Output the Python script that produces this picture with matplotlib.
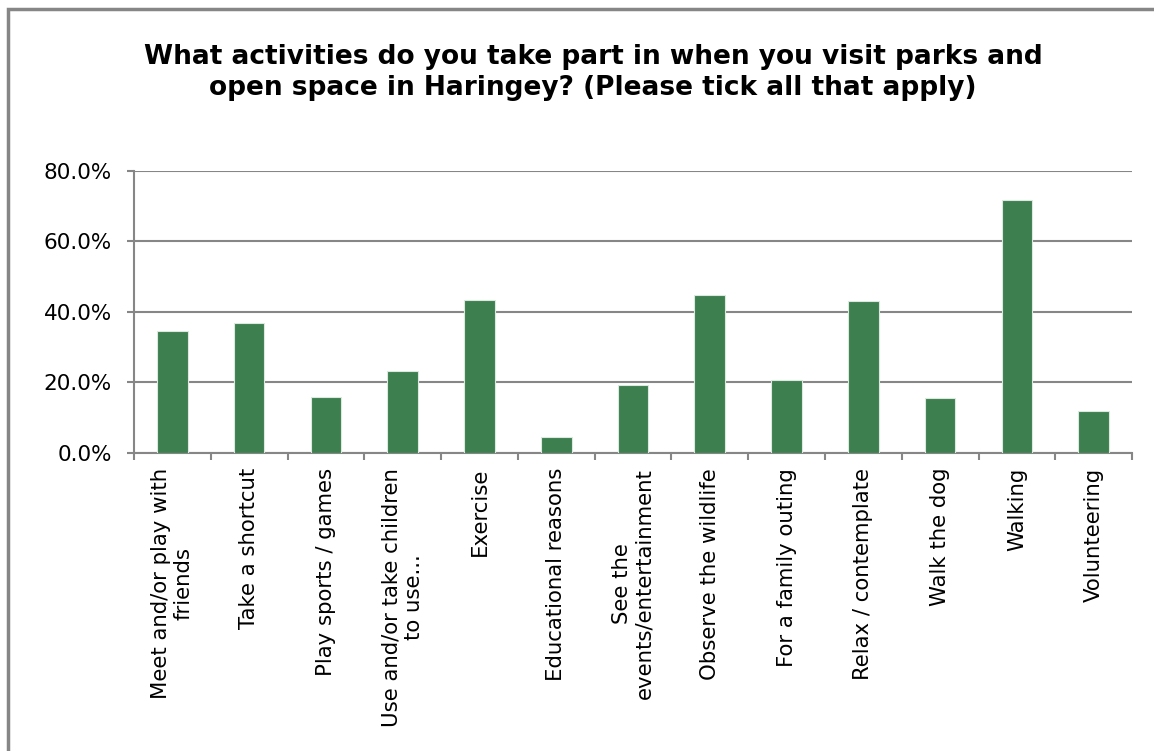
import numpy as np
import matplotlib
matplotlib.use('Agg')
import matplotlib.pyplot as plt
from matplotlib.patches import Rectangle
from matplotlib.ticker import FuncFormatter

categories = ['Meet and/or play with\nfriends', 'Take a shortcut', 'Play sports / games',
              'Use and/or take children\nto use...', 'Exercise', 'Educational reasons',
              'See the\nevents/entertainment', 'Observe the wildlife', 'For a family outing',
              'Relax / contemplate', 'Walk the dog', 'Walking', 'Volunteering']
values = [34.5, 36.7, 15.9, 23.1, 43.3, 4.5, 19.3, 44.7, 20.7, 43.1, 15.6, 71.7, 11.8]
yticks = [0, 20, 40, 60, 80]

plt.rcParams['font.family'] = ['DejaVu Sans']
fig = plt.figure(figsize=(11.54, 7.51), dpi=100)
ax = fig.add_axes([0.1161, 0.3972, 0.981 - 0.1161, 0.7727 - 0.3972])

x = np.arange(len(categories))
ax.bar(x, values, width=0.4, color='#3D7F4F', edgecolor='#DCE9DF', linewidth=0.8, zorder=3)

ax.set_xlim(-0.5, len(categories) - 0.5)
ax.set_ylim(0, 80)
ax.set_yticks(yticks)
ax.yaxis.set_major_formatter(FuncFormatter(lambda v, p: '%.1f%%' % v))
ax.yaxis.grid(True, color='#868686', linewidth=1.5, zorder=0)
ax.set_axisbelow(True)

ax.set_xticks(np.arange(len(categories) + 1) - 0.5)
ax.set_xticklabels([])
ax.set_xticks(x, minor=True)
ax.set_xticklabels(categories, minor=True, rotation=90, ha='center', va='top',
                   multialignment='center', fontsize=15.3, linespacing=1.15)
ax.tick_params(axis='x', which='minor', length=0, pad=11)
ax.tick_params(axis='x', which='major', length=5, width=1.5, color='#868686')
ax.tick_params(axis='y', length=5, width=1.5, color='#868686', labelsize=15.5, pad=11)

for s in ['top', 'right']:
    ax.spines[s].set_visible(False)
for s in ['left', 'bottom']:
    ax.spines[s].set_color('#868686')
    ax.spines[s].set_linewidth(1.5)

fig.text(0.514, 0.904, 'What activities do you take part in when you visit parks and\n'
         'open space in Haringey? (Please tick all that apply)',
         ha='center', va='center', fontsize=19, fontweight='bold', linespacing=1.25)

# chart border
fig.patches.append(Rectangle((8 / 1154, -0.05), 1.2, (751 - 9) / 751 + 0.05,
                             transform=fig.transFigure, fill=False,
                             edgecolor='#868686', linewidth=2.5))

fig.savefig('out.png', dpi=100)
